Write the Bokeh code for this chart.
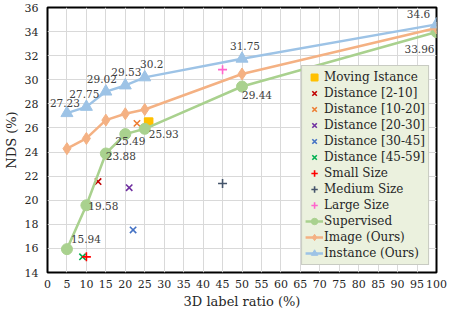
from bokeh.plotting import figure
from bokeh.models import ColumnDataSource, FixedTicker
from bokeh.core.properties import value
from bokeh.embed import file_html
from bokeh.resources import INLINE

ratios = [5, 10, 15, 20, 25, 50, 100]
supervised = [15.94, 19.58, 23.88, 25.49, 25.93, 29.44, 33.96]
image_ours = [24.28, 25.13, 26.65, 27.18, 27.53, 30.48, 34.3]
instance_ours = [27.23, 27.75, 29.02, 29.53, 30.2, 31.75, 34.6]

supervised_labels = ["15.94", "19.58", "23.88", "25.49", "25.93", "29.44", "33.96"]
instance_labels = ["27.23", "27.75", "29.02", "29.53", "30.2", "31.75", "34.6"]

point_names = ["Moving Istance", "Distance [2-10]", "Distance [10-20]", "Distance [20-30]",
               "Distance [30-45]", "Distance [45-59]", "Small Size", "Medium Size", "Large Size"]
point_x = [26, 13, 23, 21, 22, 9, 10, 45, 45]
point_y = [26.5, 21.55, 26.38, 21.04, 17.53, 15.3, 15.3, 21.39, 30.84]

x_ticks = list(range(0, 101, 5))
y_ticks = list(range(14, 37, 2))

FONT = "DejaVu Serif"

point_markers = ["square", "x", "x", "x", "x", "x", "cross", "cross", "cross"]
point_colors = ["#ffc000", "#c00000", "#ed7d31", "#7030a0", "#4472c4", "#00b050",
                "#ff0000", "#44546a", "#ff66cc"]
sup_off = [(19, -10), (17, 1), (15, 3), (5, 7), (19, 5), (15, 8), (-17, 17)]
inst_off = [(-2, -10), (-2, -13), (-4, -13), (1, -13), (7, -13), (3, -13), (-18, -10)]

p = figure(width=447, height=311, x_range=(0, 100), y_range=(14, 36),
           output_backend="svg", toolbar_location=None,
           min_border_left=42, min_border_right=11, min_border_top=7, min_border_bottom=38)

p.xaxis.ticker = FixedTicker(ticks=x_ticks)
p.yaxis.ticker = FixedTicker(ticks=y_ticks)
p.xgrid.ticker = FixedTicker(ticks=x_ticks)
p.ygrid.ticker = FixedTicker(ticks=y_ticks)
p.grid.grid_line_color = "#d9d9d9"
p.grid.grid_line_width = 1
p.outline_line_color = "black"
p.outline_line_width = 2
for ax in (p.xaxis[0], p.yaxis[0]):
    ax.axis_line_color = None
    ax.major_tick_line_color = None
    ax.minor_tick_line_color = None
    ax.major_tick_out = 0
    ax.major_tick_in = 0
    ax.minor_tick_out = 0
    ax.minor_tick_in = 0
    ax.major_label_text_font = FONT
    ax.major_label_text_font_size = "11px"
    ax.major_label_text_color = "#262626"
    ax.axis_label_text_font = FONT
    ax.axis_label_text_font_size = "13px"
    ax.axis_label_text_font_style = "normal"
    ax.axis_label_text_color = "#262626"
p.xaxis.axis_label = "3D label ratio (%)"
p.yaxis.axis_label = "NDS (%)"
p.xaxis.major_label_standoff = 7
p.xaxis.axis_label_standoff = 3
p.yaxis.major_label_standoff = 9
p.yaxis.axis_label_standoff = 3

for name, x, y, m, c in zip(point_names, point_x, point_y, point_markers, point_colors):
    sz = 8 if m == "square" else 9
    p.scatter([x], [y], marker=m, size=sz, line_color=c, fill_color=c, line_width=1.6,
              legend_label=name)

series = [("Supervised", supervised, "#a9d18e", "circle", 11),
          ("Image (Ours)", image_ours, "#f4b183", "diamond", 12),
          ("Instance (Ours)", instance_ours, "#9dc3e6", "triangle", 12)]
for name, ys, c, m, sz in series:
    p.line(ratios, ys, line_color=c, line_width=2.5, legend_label=name)
    p.scatter(ratios, ys, marker=m, size=sz, fill_color=c, line_color=c, legend_label=name)

def add_labels(ys, labels, offs):
    src = ColumnDataSource(dict(x=ratios, y=ys, t=labels,
                                dx=[o[0] for o in offs], dy=[o[1] for o in offs]))
    p.text(x="x", y="y", text="t", x_offset="dx", y_offset="dy", source=src,
           text_font=value(FONT), text_font_size="10.5px", text_color="#404040",
           text_align="center", text_baseline="middle")

add_labels(supervised, supervised_labels, sup_off)
add_labels(instance_ours, instance_labels, inst_off)

lg = p.legend[0]
lg.location = "bottom_right"
lg.margin = 7
lg.background_fill_color = "#ebf1de"
lg.background_fill_alpha = 1
lg.border_line_color = "#a6a6a6"
lg.border_line_width = 1
lg.label_text_font = FONT
lg.label_text_font_size = "12px"
lg.label_text_color = "#262626"
lg.label_height = 16
lg.glyph_height = 16
lg.glyph_width = 18
lg.label_standoff = 1
lg.spacing = 0
lg.padding = 3
lg.label_text_line_height = 1.0

open("out.html", "w").write(file_html(p, INLINE))
